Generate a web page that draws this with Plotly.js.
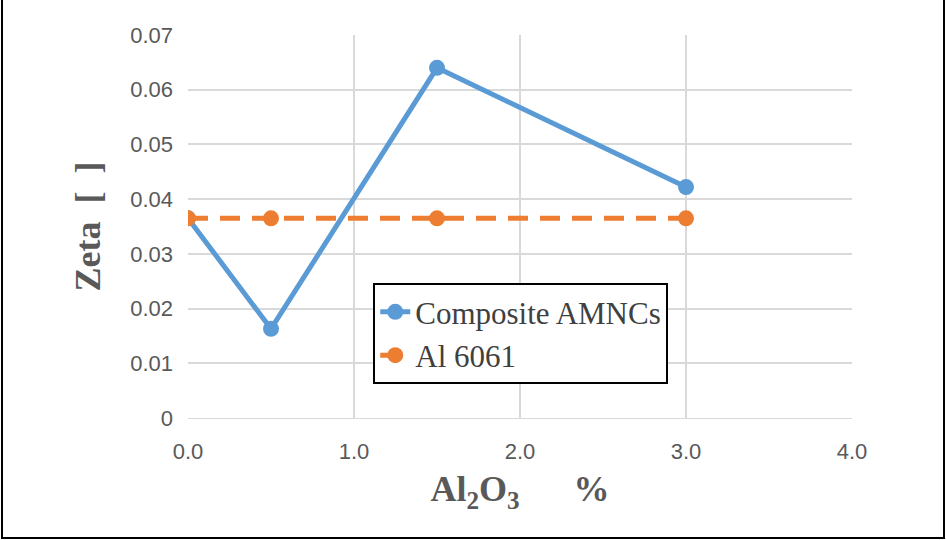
<!DOCTYPE html>
<html>
<head>
<script src="https://cdn.plot.ly/plotly-3.0.1.min.js"></script>
<style>
html, body { margin: 0; padding: 0; background: #fff; }
#chart { width: 946px; height: 540px; }
</style>
</head>
<body>
<div id="chart"></div>
<script>
// Al2O3 content (%)
var al2o3 = [0.0, 0.5, 1.5, 3.0];
// Zeta values
var zetaComposite = [0.0365, 0.0163, 0.0640, 0.0422];
var zetaAl6061 = [0.0365, 0.0365, 0.0365, 0.0365];
var yTicks = [0, 0.01, 0.02, 0.03, 0.04, 0.05, 0.06, 0.07];
var yTickText = ['0', '0.01', '0.02', '0.03', '0.04', '0.05', '0.06', '0.07'];

var composite = {
  x: al2o3, y: zetaComposite, name: 'Composite AMNCs',
  type: 'scatter', mode: 'lines+markers',
  line: {color: '#5b9bd5', width: 5},
  marker: {color: '#5b9bd5', size: 16}
};
var alloy = {
  x: al2o3, y: zetaAl6061, name: 'Al 6061',
  type: 'scatter', mode: 'lines+markers',
  line: {color: '#ed7d31', width: 5, dash: '20px,12px'},
  marker: {color: '#ed7d31', size: 16}
};

var tickFont = {family: 'Liberation Sans, Arial', color: '#595959', size: 22};
var titleFont = {family: 'Liberation Serif, Times New Roman', size: 36, color: '#595959', weight: 'bold'};

var layout = {
  width: 946, height: 540,
  margin: {l: 188, r: 94, t: 35, b: 122},
  paper_bgcolor: '#fff', plot_bgcolor: '#fff',
  xaxis: {
    range: [0, 4], tickvals: [0, 1, 2, 3, 4], ticktext: ['0.0', '1.0', '2.0', '3.0', '4.0'],
    tickfont: tickFont,
    showgrid: true, gridcolor: '#d9d9d9', gridwidth: 1.5, zeroline: false,
    showline: true, linecolor: '#d9d9d9', ticks: '', ticklabelstandoff: 14,
    title: {text: 'Al<sub>2</sub>O<sub>3</sub>      %', standoff: 12, font: titleFont}
  },
  yaxis: {
    range: [0, 0.07], tickvals: yTicks, ticktext: yTickText,
    tickfont: tickFont,
    showgrid: true, gridcolor: '#d9d9d9', gridwidth: 1.5, zeroline: false,
    ticks: '', ticklabelstandoff: 14,
    title: {text: 'Zeta  [  ]', standoff: 18, font: titleFont}
  },
  shapes: [{
    type: 'rect', xref: 'paper', yref: 'paper', layer: 'above',
    x0: -186 / 664, x1: 756 / 664, y0: -120 / 383, y1: 503 / 383,
    line: {color: '#000', width: 2}
  }],
  showlegend: true,
  legend: {
    x: 0.279, y: 0.352, xanchor: 'left', yanchor: 'top',
    bgcolor: '#fff', bordercolor: '#000', borderwidth: 2,
    font: {family: 'Liberation Serif, Times New Roman', size: 31, color: '#404040'},
    tracegroupgap: 4
  }
};

Plotly.newPlot('chart', [composite, alloy], layout, {displayModeBar: false});
</script>
</body>
</html>
